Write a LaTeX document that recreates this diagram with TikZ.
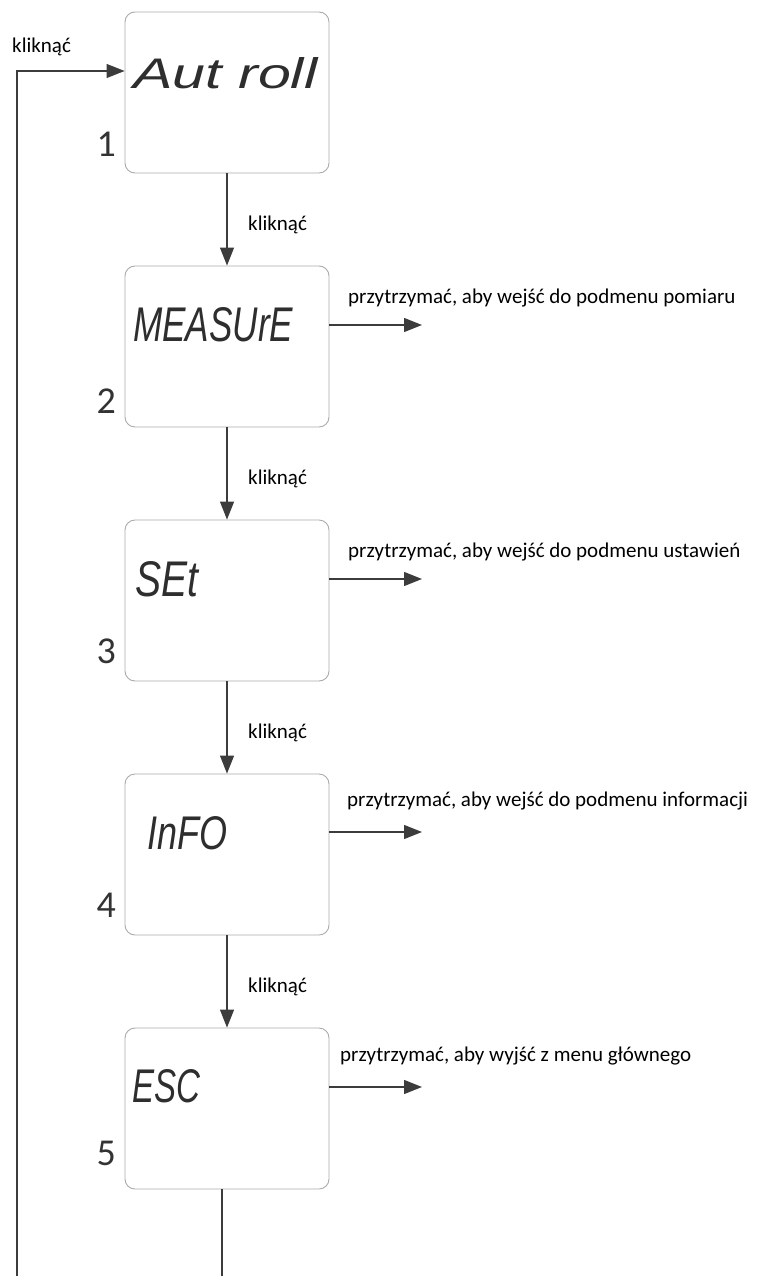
\documentclass[tikz,border=0pt]{standalone}
\usepackage{fontspec}
\setmainfont{Carlito}
\newfontfamily\segfont{Liberation Sans}
\usetikzlibrary{arrows.meta,calc}
\definecolor{ln}{HTML}{3C3C3C}
\definecolor{bx}{HTML}{ABABAB}
\definecolor{seg}{HTML}{2E2E2E}
\definecolor{numc}{HTML}{333333}
\begin{document}
\begin{tikzpicture}[x=1pt,y=-1pt,
  screen/.style={draw=bx, line width=0.9pt, rounded corners=10pt, minimum width=204pt, minimum height=161pt, inner sep=0pt, fill=white},
  conn/.style={draw=ln, line width=1.3pt},
  arr/.style={conn, -{Triangle[length=18pt,width=14pt]}},
  lbl/.style={font=\fontsize{21}{24}\selectfont, text=black, inner sep=0pt, anchor=base west},
  num/.style={font=\fontsize{38}{40}\selectfont, text=numc, inner sep=0pt, anchor=base east},
  disp/.style={inner sep=0pt, anchor=south west, text=seg, font=\segfont\itshape}]
\useasboundingbox (0,0) rectangle (759,1276);
\clip (0,0) rectangle (759,1276);
% screens
\node[screen] (b1) at (227,92.5) {};
\node[screen] (b2) at (227,346.5) {};
\node[screen] (b3) at (227,600.5) {};
\node[screen] (b4) at (227,854.5) {};
\node[screen] (b5) at (227,1108.5) {};
% display texts
\node[disp] (d1) at (133,89) {\resizebox{184pt}{31pt}{Aut roll}};
\node[disp] (d2) at (133,342) {\resizebox{160pt}{34pt}{MEASUrE}};
\node[disp] (d3) at (135,597) {\resizebox{63pt}{35pt}{SEt}};
\node[disp] (d4) at (147,850) {\resizebox{80pt}{33pt}{InFO}};
\node[disp] (d5) at (132,1103) {\resizebox{68pt}{33pt}{ESC}};
% numbers
\node[num] (n1) at (116,157) {1};
\node[num] (n2) at (116,413) {2};
\node[num] (n3) at (116,663) {3};
\node[num] (n4) at (116,917) {4};
\node[num] (n5) at (116,1165) {5};
% click labels
\node[lbl] (k0) at (12,53) {kliknąć};
\node[lbl] (k1) at (248,230) {kliknąć};
\node[lbl] (k2) at (248,484) {kliknąć};
\node[lbl] (k3) at (248,738) {kliknąć};
\node[lbl] (k4) at (248,992) {kliknąć};
% hold labels
\node[lbl] (t2) at (348,303) {przytrzymać, aby wejść do podmenu pomiaru};
\node[lbl] (t3) at (348,557) {przytrzymać, aby wejść do podmenu ustawień};
\node[lbl] (t4) at (347,806) {przytrzymać, aby wejść do podmenu informacji};
\node[lbl] (t5) at (340,1061) {przytrzymać, aby wyjść z menu głównego};
% vertical arrows
\draw[arr] (b1.south) -- (b2.north);
\draw[arr] (b2.south) -- (b3.north);
\draw[arr] (b3.south) -- (b4.north);
\draw[arr] (b4.south) -- (b5.north);
% right arrows
\coordinate (e2) at (422,325);
\coordinate (e3) at (422,579);
\coordinate (e4) at (422,832);
\coordinate (e5) at (422,1087);
\draw[arr] (b2.east |- e2) -- (e2);
\draw[arr] (b3.east |- e3) -- (e3);
\draw[arr] (b4.east |- e4) -- (e4);
\draw[arr] (b5.east |- e5) -- (e5);
% loop back
\coordinate (lp1) at (222,1300);
\coordinate (lp2) at (17,1300);
\coordinate (in1) at (125,71);
\draw[arr] (b5.south -| lp1) -- (lp1) -- (lp2) |- (b1.west |- in1);
\end{tikzpicture}
\end{document}
